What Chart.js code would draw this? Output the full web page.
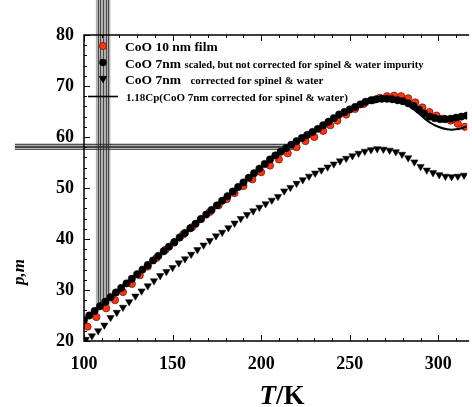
<!DOCTYPE html>
<html>
<head>
<meta charset="utf-8">
<script src="https://cdn.jsdelivr.net/npm/chart.js@4.4.0/dist/chart.umd.min.js"></script>
<style>
  html, body { margin: 0; padding: 0; background: #fff; }
  #wrap { width: 472px; height: 407px; position: relative; }
</style>
</head>
<body>
<div id="wrap"><canvas id="cpChart"></canvas></div>
<script>
// CoO 10 nm film (red circles)
const tempRed = [102, 107, 112.5, 117.5, 122, 127, 131.5, 136, 141, 146, 151, 156, 161, 166, 171, 176, 180.5, 185, 190, 195,
  200, 205, 210, 215, 220, 225, 230, 235, 239, 243, 248, 253, 258, 263, 267, 271, 275, 279, 283, 287, 291, 295, 299, 303, 307, 311, 315];
const cpRed = [22.8, 24.7, 26.4, 28.0, 29.6, 31.2, 32.9, 34.6, 36.3, 37.9, 39.3, 40.9, 42.3, 43.9, 45.3, 46.6, 47.8, 49.0, 50.4, 51.7,
  53.1, 54.4, 55.6, 56.8, 58.0, 59.2, 60.0, 61.2, 62.3, 63.2, 64.4, 65.5, 66.5, 67.2, 67.7, 68.0, 68.1, 68.0, 67.6, 66.8, 65.8, 64.9, 64.2, 63.6, 63.2, 62.6, 62.0];

// CoO 7nm scaled, not corrected (black circles)
const tempBlack = [100, 103, 106, 109, 112, 115, 118, 121, 124, 127, 130, 133, 136, 139, 142, 145, 148, 151, 154, 157,
  160, 163, 166, 169, 172, 175, 178, 181, 184, 187, 190, 193, 196, 199, 202, 205, 208, 211, 214, 217,
  220, 223, 226, 229, 232, 235, 238, 241, 244, 247, 250, 253, 256, 259, 262, 265, 268, 271, 274, 277,
  280, 283, 286, 289, 292, 295, 298, 301, 304, 307, 310, 313, 316];
const cpBlack = [24.1, 25.0, 25.9, 26.8, 27.7, 28.6, 29.5, 30.4, 31.3, 32.2, 33.1, 34.0, 34.9, 35.8, 36.7, 37.6, 38.5, 39.4, 40.3, 41.2,
  42.1, 43.0, 43.9, 44.8, 45.7, 46.6, 47.5, 48.4, 49.3, 50.2, 51.1, 52.0, 52.9, 53.8, 54.7, 55.6, 56.4, 57.1, 57.8, 58.5,
  59.2, 59.8, 60.4, 61.0, 61.6, 62.3, 63.0, 63.7, 64.4, 64.9, 65.4, 65.9, 66.4, 66.9, 67.2, 67.4, 67.5, 67.5, 67.4, 67.2,
  67.0, 66.6, 66.1, 65.4, 64.6, 64.0, 63.7, 63.5, 63.5, 63.6, 63.8, 64.0, 64.2];

// CoO 7nm corrected for spinel & water (triangles)
const tempTri = [101, 104.5, 108, 111.5, 115, 118.5, 122, 125.5, 129, 132.5, 136, 139.5, 143, 146.5, 150, 153.5, 157, 160.5, 164, 167.5,
  171, 174.5, 178, 181.5, 185, 188.5, 192, 195.5, 199, 202.5, 206, 209.5, 213, 216.5, 220, 223.5, 227, 230.5, 234, 237.5,
  241, 244.5, 248, 251.5, 255, 258.5, 262, 265.5, 269, 272.5, 276, 279.5, 283, 286.5, 290, 293.5, 297, 300.5, 304, 307.5, 311, 314.5];
const cpTri = [20.3, 21.0, 22.0, 23.1, 24.6, 25.6, 26.6, 27.7, 28.8, 29.8, 30.8, 31.8, 32.8, 33.6, 34.4, 35.3, 36.1, 37.0, 37.9, 38.8,
  39.7, 40.6, 41.3, 42.2, 43.1, 44.0, 44.8, 45.5, 46.2, 46.9, 47.6, 48.3, 49.4, 50.1, 50.9, 51.6, 52.3, 52.9, 53.5, 54.1,
  54.7, 55.3, 55.8, 56.3, 56.8, 57.2, 57.5, 57.7, 57.6, 57.4, 57.1, 56.6, 55.9, 55.1, 54.2, 53.5, 53.0, 52.6, 52.3, 52.2, 52.3, 52.5];

// 1.18Cp line
const tempLine = [100, 105, 110, 115, 120, 125, 130, 135, 140, 145, 150, 155, 160, 165, 170, 175, 180, 185, 190, 195,
  200, 205, 210, 215, 220, 225, 230, 235, 240, 245, 250, 255, 260, 265, 270, 275, 280, 285, 290, 295, 300, 305, 310, 316];
const cpLine = [24.0, 25.6, 27.1, 28.6, 30.1, 31.6, 33.1, 34.6, 36.1, 37.6, 39.1, 40.6, 42.1, 43.6, 45.1, 46.6, 48.1, 49.6, 51.1, 52.6,
  54.1, 55.5, 56.9, 58.1, 59.2, 60.2, 61.2, 62.3, 63.4, 64.5, 65.4, 66.2, 66.9, 67.3, 67.4, 67.2, 66.8, 65.7, 64.3, 62.9, 62.0, 61.5, 61.5, 62.0];

// gray cursor lines left in the original figure
const crossBandT = [106.7, 114.9];
const crossLinesT = [108.0, 109.3, 110.8, 112.3, 113.5];
const crossSpanV = [27.1, 87];
const crossBandV = [57.59, 58.76];
const crossLinesV = [58.63, 58.29, 57.98, 57.65];
const crossSpanT = [61, 220.4];

const serif = "'Liberation Serif', 'Times New Roman', serif";
const redFill = '#ff3414';
const redEdge = '#7a1500';

function pts(xs, ys) {
  return xs.map((t, i) => ({ x: t, y: ys[i] }));
}

const decor = {
  id: 'decor',
  beforeDatasetsDraw(chart) {
    const { ctx, scales: { x, y } } = chart;
    ctx.save();
    // vertical cursor band
    const vx0 = x.getPixelForValue(crossBandT[0]), vx1 = x.getPixelForValue(crossBandT[1]);
    const vyB = y.getPixelForValue(crossSpanV[0]), vyT = y.getPixelForValue(crossSpanV[1]);
    ctx.fillStyle = 'rgba(100,100,100,0.5)';
    ctx.fillRect(vx0, vyT, vx1 - vx0, vyB - vyT);
    // horizontal cursor band
    const hy0 = y.getPixelForValue(crossBandV[1]), hy1 = y.getPixelForValue(crossBandV[0]);
    const hxL = x.getPixelForValue(crossSpanT[0]), hxR = x.getPixelForValue(crossSpanT[1]);
    ctx.fillRect(hxL, hy0, hxR - hxL, hy1 - hy0);
    ctx.strokeStyle = 'rgba(40,40,40,0.75)';
    ctx.lineWidth = 1;
    crossLinesT.forEach(t => {
      const px = Math.round(x.getPixelForValue(t)) + 0.5;
      ctx.beginPath(); ctx.moveTo(px, vyT); ctx.lineTo(px, vyB); ctx.stroke();
    });
    crossLinesV.forEach(v => {
      const py = Math.round(y.getPixelForValue(v)) + 0.5;
      ctx.beginPath(); ctx.moveTo(hxL, py); ctx.lineTo(hxR, py); ctx.stroke();
    });
    ctx.restore();
  },
  afterDraw(chart) {
    const { ctx, chartArea: a, scales: { x, y } } = chart;
    ctx.save();
    ctx.strokeStyle = '#000';
    ctx.lineWidth = 1.5;
    // frame: left, bottom, top
    ctx.beginPath();
    ctx.moveTo(a.right + 2, a.top); ctx.lineTo(a.left, a.top);
    ctx.lineTo(a.left, a.bottom); ctx.lineTo(a.right + 2, a.bottom);
    ctx.stroke();
    // inward tick marks
    ctx.lineWidth = 1;
    for (let t = 100; t <= 316; t += 10) {
      const px = Math.round(x.getPixelForValue(t)) + 0.5;
      const len = t % 50 === 0 ? 6 : 3;
      ctx.beginPath();
      ctx.moveTo(px, a.bottom); ctx.lineTo(px, a.bottom - len);
      ctx.moveTo(px, a.top); ctx.lineTo(px, a.top + len);
      ctx.stroke();
    }
    for (let v = 20; v <= 80; v += 2) {
      const py = Math.round(y.getPixelForValue(v)) + 0.5;
      const len = v % 10 === 0 ? 6 : 3;
      ctx.beginPath(); ctx.moveTo(a.left, py); ctx.lineTo(a.left + len, py); ctx.stroke();
    }

    // legend
    const helpers = Chart.helpers;
    ctx.fillStyle = redFill; ctx.strokeStyle = redEdge; ctx.lineWidth = 0.8;
    helpers.drawPoint(ctx, { pointStyle: 'circle', radius: 3.6, rotation: 0, borderWidth: 0.8 }, 103, 46);
    ctx.fillStyle = '#000'; ctx.strokeStyle = '#000';
    helpers.drawPoint(ctx, { pointStyle: 'circle', radius: 3.4, rotation: 0, borderWidth: 0.5 }, 103, 62.5);
    helpers.drawPoint(ctx, { pointStyle: 'triangle', radius: 4.2, rotation: 180, borderWidth: 0.5 }, 103, 78.5);
    ctx.lineWidth = 1.6;
    ctx.beginPath(); ctx.moveTo(88, 96.5); ctx.lineTo(118, 96.5); ctx.stroke();

    ctx.fillStyle = '#000';
    ctx.textBaseline = 'alphabetic';
    ctx.textAlign = 'left';
    ctx.font = `bold 13.5px ${serif}`;
    ctx.fillText('CoO 10 nm film', 125, 51);
    ctx.fillText('CoO 7nm', 125, 67.5);
    const w = ctx.measureText('CoO 7nm').width;
    ctx.fillText('CoO 7nm', 125, 84);
    ctx.font = `bold 10.6px ${serif}`;
    ctx.fillText(' scaled, but not corrected for spinel & water impurity', 126 + w, 67.5);
    ctx.font = `bold 11px ${serif}`;
    ctx.fillText('  corrected for spinel & water', 126 + w + 3, 84);
    ctx.font = `bold 11px ${serif}`;
    ctx.fillText('1.18Cp(CoO 7nm corrected for spinel & water)', 126, 101);

    // x title T/K
    ctx.font = `italic bold 27px ${serif}`;
    const wT = ctx.measureText('T').width;
    ctx.font = `bold 27px ${serif}`;
    const wK = ctx.measureText('/K').width;
    const x0 = 282 - (wT + wK) / 2;
    ctx.font = `italic bold 27px ${serif}`;
    ctx.fillText('T', x0, 404);
    ctx.font = `bold 27px ${serif}`;
    ctx.fillText('/K', x0 + wT, 404);

    // y title
    ctx.translate(20, 272);
    ctx.rotate(-Math.PI / 2);
    ctx.textAlign = 'center';
    ctx.textBaseline = 'middle';
    ctx.font = `italic bold 17px ${serif}`;
    ctx.fillText('p,m', 0, 0);
    ctx.restore();
  }
};

const ctx = document.getElementById('cpChart').getContext('2d');
const cpChart = new Chart(ctx, {
  type: 'scatter',
  data: {
    datasets: [
      {
        label: '1.18Cp(CoO 7nm corrected for spinel & water)',
        data: pts(tempLine, cpLine),
        showLine: true,
        borderColor: '#000',
        borderWidth: 2,
        pointRadius: 0,
        tension: 0.3,
        order: 0
      },
      {
        label: 'CoO 10 nm film',
        data: pts(tempRed, cpRed),
        pointStyle: 'circle',
        pointRadius: 3.6,
        backgroundColor: redFill,
        borderColor: redEdge,
        borderWidth: 0.8,
        order: 3
      },
      {
        label: 'CoO 7nm scaled, but not corrected for spinel & water impurity',
        data: pts(tempBlack, cpBlack),
        pointStyle: 'circle',
        pointRadius: 3.7,
        backgroundColor: '#000',
        borderColor: '#000',
        borderWidth: 0.5,
        order: 1
      },
      {
        label: 'CoO 7nm corrected for spinel & water',
        data: pts(tempTri, cpTri),
        pointStyle: 'triangle',
        rotation: 180,
        pointRadius: 4.2,
        backgroundColor: '#000',
        borderColor: '#000',
        borderWidth: 0.5,
        order: 2
      }
    ]
  },
  options: {
    responsive: true,
    maintainAspectRatio: false,
    animation: false,
    layout: { padding: { top: 35, right: 0, left: 0, bottom: 0 } },
    scales: {
      x: {
        type: 'linear',
        min: 100,
        max: 316.3,
        afterFit: s => { s.height = 66; },
        grid: { drawOnChartArea: false, drawTicks: false },
        border: { display: false },
        ticks: {
          stepSize: 10,
          autoSkip: false,
          includeBounds: false,
          maxRotation: 0,
          padding: 13,
          color: '#000',
          font: { family: serif, size: 18, weight: 'bold' },
          callback: v => (v % 50 === 0 ? v : '')
        }
      },
      y: {
        min: 20,
        max: 80,
        afterFit: s => { s.width = 84; },
        grid: { drawOnChartArea: false, drawTicks: false },
        border: { display: false },
        ticks: {
          stepSize: 2,
          autoSkip: false,
          padding: 10,
          color: '#000',
          font: { family: serif, size: 18, weight: 'bold' },
          callback: v => (v % 10 === 0 ? v : '')
        }
      }
    },
    plugins: {
      legend: { display: false },
      tooltip: { enabled: false }
    }
  },
  plugins: [decor]
});
</script>
</body>
</html>
